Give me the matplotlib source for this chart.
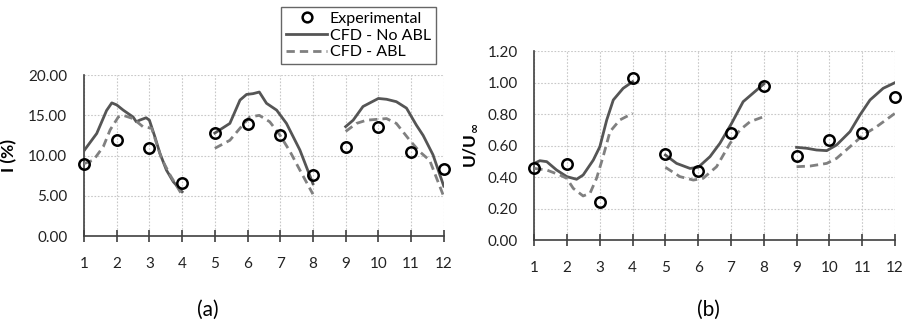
import numpy as np
import matplotlib.pyplot as plt
from matplotlib.lines import Line2D

plt.rcParams['font.family'] = ['Lato', 'DejaVu Sans']

# measurement positions
pos = np.arange(1, 13)

# turbulence intensity I (%)
I_exp = [9.0, 11.9, 11.0, 6.6, 12.75, 13.9, 12.6, 7.6, 11.1, 13.5, 10.5, 8.3]

I_noabl_x = [
    [1.0, 1.39, 1.69, 1.85, 2.0, 2.2, 2.5, 2.6, 2.7, 2.9, 3.0, 3.17, 3.32, 3.52, 3.73, 4.0],
    [5.0, 5.46, 5.77, 5.97, 6.17, 6.36, 6.58, 6.89, 7.19, 7.6, 8.0],
    [9.0, 9.23, 9.53, 10.0, 10.25, 10.55, 10.86, 11.16, 11.37, 11.67, 12.0],
]
I_noabl_y = [
    [10.6, 12.75, 15.6, 16.55, 16.3, 15.65, 14.8, 14.2, 14.4, 14.7, 14.4, 12.3, 10.3, 8.2, 6.75, 5.5],
    [12.8, 14.0, 16.9, 17.6, 17.7, 17.9, 16.5, 15.65, 14.0, 10.7, 6.5],
    [13.6, 14.4, 16.1, 17.1, 17.0, 16.7, 15.9, 13.8, 12.5, 10.1, 6.2],
]
I_abl_x = [
    [1.0, 1.29, 1.59, 1.8, 2.05, 2.2, 2.5, 2.8, 3.07, 3.22, 3.37, 3.63, 4.0],
    [5.0, 5.46, 5.77, 6.07, 6.36, 6.68, 6.99, 7.3, 7.6, 8.0],
    [9.0, 9.33, 9.64, 10.25, 10.55, 10.96, 11.26, 11.57, 12.0],
]
I_abl_y = [
    [9.0, 9.44, 11.1, 13.2, 14.8, 15.0, 14.6, 13.6, 13.4, 11.5, 9.65, 7.6, 5.1],
    [10.9, 11.9, 13.4, 14.8, 15.0, 14.2, 12.55, 10.5, 8.2, 5.2],
    [13.0, 14.0, 14.4, 14.6, 14.0, 11.9, 10.5, 9.4, 4.9],
]

# velocity ratio U/U_inf
U_exp = [0.455, 0.48, 0.244, 1.028, 0.549, 0.44, 0.682, 0.979, 0.536, 0.636, 0.682, 0.911]

U_noabl_x = [
    [1.0, 1.17, 1.38, 1.68, 1.99, 2.29, 2.49, 2.8, 3.0, 3.21, 3.41, 3.71, 4.0],
    [5.0, 5.34, 5.75, 6.0, 6.36, 6.66, 7.02, 7.37, 8.0],
    [9.0, 9.31, 9.61, 9.92, 10.22, 10.63, 10.93, 11.24, 11.64, 12.0],
]
U_noabl_y = [
    [0.487, 0.504, 0.498, 0.445, 0.403, 0.386, 0.413, 0.508, 0.593, 0.763, 0.89, 0.964, 1.006],
    [0.54, 0.487, 0.455, 0.462, 0.53, 0.614, 0.742, 0.879, 0.992],
    [0.589, 0.583, 0.572, 0.568, 0.604, 0.689, 0.794, 0.89, 0.964, 1.0],
]
U_abl_x = [
    [1.0, 1.38, 1.78, 1.99, 2.19, 2.49, 2.7, 2.9, 3.1, 3.31, 3.61, 4.0],
    [5.0, 5.44, 5.85, 6.15, 6.56, 6.97, 7.27, 7.58, 8.0],
    [9.0, 9.41, 9.92, 10.22, 10.63, 11.03, 11.44, 12.0],
]
U_abl_y = [
    [0.455, 0.445, 0.413, 0.392, 0.328, 0.28, 0.297, 0.392, 0.53, 0.689, 0.763, 0.805],
    [0.462, 0.403, 0.381, 0.392, 0.466, 0.614, 0.699, 0.752, 0.784],
    [0.466, 0.47, 0.487, 0.519, 0.593, 0.667, 0.72, 0.805],
]

solid_c = '#555555'
dash_c = '#808080'
dash = (0, (3, 1.8))

fig = plt.figure(figsize=(9.04, 3.25), dpi=100)
ax1 = fig.add_axes([0.0929, 0.2738, 0.398, 0.495])
ax2 = fig.add_axes([0.591, 0.2615, 0.399, 0.581])


def draw_panel(ax, exp, nx, ny, ax_, ay, ymax, ystep, ylabel, labelpad):
    for xs, ys in zip(nx, ny):
        ax.plot(xs, ys, color=solid_c, lw=2.0, zorder=3)
    for xs, ys in zip(ax_, ay):
        ax.plot(xs, ys, color=dash_c, lw=2.0, ls=dash, zorder=3)
    ax.plot(pos, exp, 'o', ms=7.5, mfc='none', mec='black', mew=1.8,
            zorder=4, clip_on=False)
    ax.set_xlim(1, 12)
    ax.set_ylim(0, ymax)
    ax.set_xticks(pos)
    ax.set_yticks(np.arange(0, ymax + ystep / 2, ystep))
    ax.yaxis.set_major_formatter(plt.FormatStrFormatter('%.2f'))
    ax.grid(True, color='#c8c8c8', ls=(0, (1.5, 1.5)), lw=0.8)
    for s in ('top', 'right'):
        ax.spines[s].set_visible(False)
    for s in ('left', 'bottom'):
        ax.spines[s].set_color('#404040')
        ax.spines[s].set_linewidth(1.2)
    ax.tick_params(axis='x', direction='inout', length=8, width=1.2,
                   color='#404040', labelsize=11, pad=11, labelcolor='#222222')
    ax.tick_params(axis='y', length=0, labelsize=11, pad=12, labelcolor='#222222')
    ax.set_ylabel(ylabel, fontsize=12.5, fontweight='bold', labelpad=labelpad)


draw_panel(ax1, I_exp, I_noabl_x, I_noabl_y, I_abl_x, I_abl_y, 20, 5, 'I (%)', 8)
draw_panel(ax2, U_exp, U_noabl_x, U_noabl_y, U_abl_x, U_abl_y, 1.2, 0.2,
           r'U/U$_{\mathbf{\infty}}$', 6)

fig.text(208 / 904, 1 - 310 / 325, '(a)', fontsize=15, ha='center', va='center')
fig.text(708 / 904, 1 - 310 / 325, '(b)', fontsize=15, ha='center', va='center')

handles = [
    Line2D([], [], ls='none', marker='o', ms=7, mfc='none', mec='black', mew=1.8),
    Line2D([], [], color=solid_c, lw=2.0),
    Line2D([], [], color=dash_c, lw=2.0, ls=dash),
]
leg = fig.legend(handles, ['Experimental', 'CFD - No ABL', 'CFD - ABL'],
                 loc='upper left', bbox_to_anchor=(281 / 904, 1 - 7 / 325),
                 fontsize=11.5, frameon=True, fancybox=False, edgecolor='#404040',
                 handlelength=2.6, handletextpad=0.15, borderpad=0.3,
                 labelspacing=0.15, borderaxespad=0)
leg.get_frame().set_linewidth(1.0)

fig.savefig('out.png', dpi=100)
